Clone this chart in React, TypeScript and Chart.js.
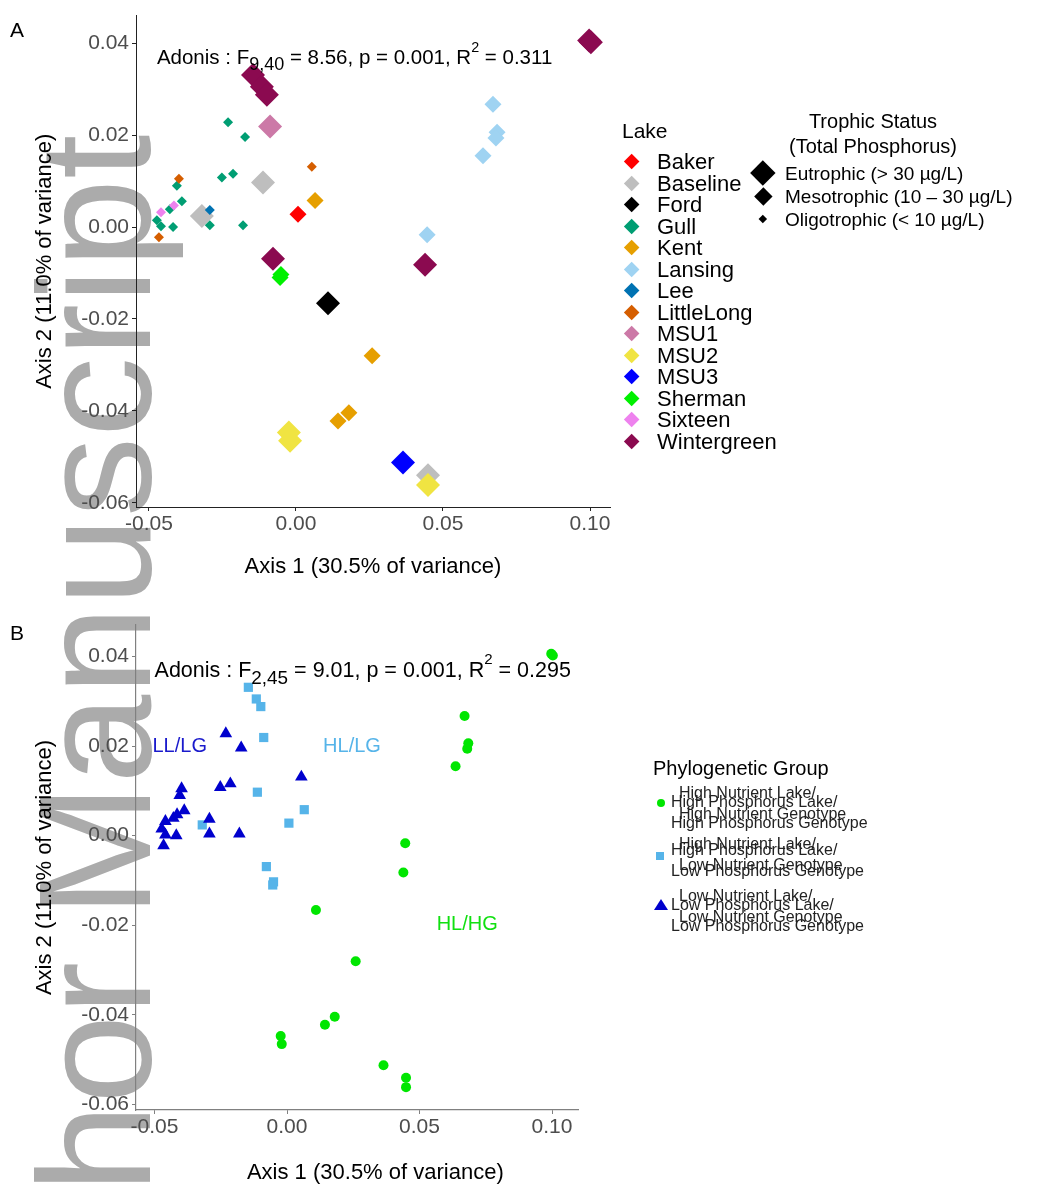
import React, { useEffect, useRef } from 'react';
import { Chart, registerables } from 'chart.js';

Chart.register(...registerables);

const FONT = '"Liberation Sans", Arial, Helvetica, sans-serif';

// ---------------- data ----------------
const lakeNames = ['Baker', 'Baseline', 'Ford', 'Gull', 'Kent', 'Lansing', 'Lee', 'LittleLong', 'MSU1', 'MSU2', 'MSU3', 'Sherman', 'Sixteen', 'Wintergreen'];
const lakeTrophic = ['Mesotrophic', 'Eutrophic', 'Eutrophic', 'Oligotrophic', 'Mesotrophic', 'Mesotrophic', 'Oligotrophic', 'Oligotrophic', 'Eutrophic', 'Eutrophic', 'Eutrophic', 'Mesotrophic', 'Oligotrophic', 'Eutrophic'];
const trophicNames = ['Eutrophic', 'Mesotrophic', 'Oligotrophic'];
const trophicLabels = ['Eutrophic (> 30 µg/L)', 'Mesotrophic (10 – 30 µg/L)', 'Oligotrophic (< 10 µg/L)'];

const sampleLake = [
  'Wintergreen', 'Wintergreen', 'Wintergreen', 'Wintergreen', 'Wintergreen', 'Wintergreen', 'Wintergreen',
  'Lansing', 'Lansing', 'Lansing', 'Lansing', 'Lansing',
  'Gull', 'Gull', 'Gull', 'Gull', 'Gull', 'Gull', 'Gull', 'Gull', 'Gull', 'Gull', 'Gull', 'Gull',
  'LittleLong', 'LittleLong', 'LittleLong',
  'Sixteen', 'Sixteen',
  'Lee',
  'Baseline', 'Baseline', 'Baseline',
  'MSU1',
  'Baker',
  'Kent', 'Kent', 'Kent', 'Kent',
  'Sherman', 'Sherman',
  'Ford',
  'MSU2', 'MSU2', 'MSU2',
  'MSU3',
];
const sampleAxis1 = [
  0.0997, 0.1003, -0.0146, -0.0116, -0.0099, -0.0078, 0.0439,
  0.0670, 0.0684, 0.0680, 0.0636, 0.0446,
  -0.0231, -0.0173, -0.0214, -0.0252, -0.0405, -0.0388, -0.0429, -0.0473, -0.0459, -0.0418, -0.0293, -0.0180,
  -0.0398, 0.0054, -0.0466,
  -0.0459, -0.0415,
  -0.0293,
  -0.0320, -0.0112, 0.0449,
  -0.0088,
  0.0007,
  0.0065, 0.0259, 0.0180, 0.0143,
  -0.0051, -0.0054,
  0.0109,
  -0.0024, -0.0020, 0.0449,
  0.0364,
];
const sampleAxis2 = [
  0.0406, 0.0402, 0.0331, 0.0305, 0.0288, -0.0069, -0.0082,
  0.0267, 0.0206, 0.0194, 0.0155, -0.0017,
  0.0228, 0.0196, 0.0116, 0.0108, 0.0090, 0.0056, 0.0039, 0.0015, 0.0002, 0.0000, 0.0004, 0.0004,
  0.0105, 0.0131, -0.0022,
  0.0032, 0.0047,
  0.0037,
  0.0024, 0.0097, -0.0540,
  0.0219,
  0.0028,
  0.0058, -0.0280, -0.0404, -0.0422,
  -0.0103, -0.0110,
  -0.0166,
  -0.0447, -0.0465, -0.0561,
  -0.0512,
];
const sampleGroup = [
  'HL/HG', 'HL/HG', 'HL/LG', 'HL/LG', 'HL/LG', 'HL/LG', 'HL/HG',
  'HL/HG', 'HL/HG', 'HL/HG', 'HL/HG', 'HL/HG',
  'LL/LG', 'LL/LG', 'LL/LG', 'LL/LG', 'LL/LG', 'LL/LG', 'LL/LG', 'LL/LG', 'LL/LG', 'LL/LG', 'LL/LG', 'LL/LG',
  'LL/LG', 'LL/LG', 'LL/LG',
  'LL/LG', 'LL/LG',
  'LL/LG',
  'HL/LG', 'HL/LG', 'HL/HG',
  'HL/LG',
  'HL/LG',
  'HL/LG', 'HL/HG', 'HL/HG', 'HL/HG',
  'HL/LG', 'HL/LG',
  'HL/HG',
  'HL/HG', 'HL/HG', 'HL/HG',
  'HL/HG',
];

const groupNames = ['HL/HG', 'HL/LG', 'LL/LG'];
const groupLegendNutrient = [
  'High Nutrient Lake/\nHigh Nutrient Genotype',
  'High Nutrient Lake/\nLow Nutrient Genotype',
  'Low Nutrient Lake/\nLow Nutrient Genotype',
];
const groupLegendPhosphorus = [
  'High Phosphorus Lake/\nHigh Phosphorus Genotype',
  'High Phosphorus Lake/\nLow Phosphorus Genotype',
  'Low Phosphorus Lake/\nLow Phosphorus Genotype',
];

const xTicks = [-0.05, 0, 0.05, 0.1];
const yTicks = [-0.06, -0.04, -0.02, 0, 0.02, 0.04];

const adonisA = [['Adonis : F', 'n'], ['9,40', 'sub'], [' = 8.56, p = 0.001, R', 'n'], ['2', 'sup'], [' = 0.311', 'n']];
const adonisB = [['Adonis : F', 'n'], ['2,45', 'sub'], [' = 9.01, p = 0.001, R', 'n'], ['2', 'sup'], [' = 0.295', 'n']];

// ---------------- styles ----------------
const lakeColors = ['#FF0000', '#BEBEBE', '#000000', '#009E73', '#E69F00', '#9FD3F2', '#0072B2', '#D55E00', '#CC79A7', '#F0E442', '#0000FF', '#00F000', '#EE82EE', '#8B0A50'];
const trophicRadius: Record<string, number> = { Eutrophic: 12, Mesotrophic: 8.5, Oligotrophic: 5 };
const trophicLegendRadius = [12.5, 9, 4];
const groupColors = ['#00E600', '#56B4E9', '#0000CD'];
const groupPointStyle = ['circle', 'rect', 'triangle'];
const groupRadius = [5, 6.5, 7.3];
const groupLabelColor = ['#10E010', '#56B4E9', '#1A1ACC'];
const groupLabelAnchor = [[0.068, -0.0198], [0.0245, 0.02], [-0.0405, 0.02]];

function drawRich(ctx: CanvasRenderingContext2D, parts: string[][], x: number, y: number, size: number) {
  let cx = x;
  for (const [text, kind] of parts) {
    const s = kind === 'n' ? size : kind === 'sub' ? size * 0.88 : size * 0.7;
    const dy = kind === 'sub' ? size * 0.3 : kind === 'sup' ? -size * 0.62 : 0;
    ctx.font = `${s}px ${FONT}`;
    ctx.fillText(text, cx, y + dy);
    cx += ctx.measureText(text).width;
  }
}

function makeScales(o: any) {
  return {
    x: {
      type: 'linear', position: 'bottom', min: o.xmin, max: o.xmax,
      afterBuildTicks: (s: any) => { s.ticks = xTicks.map((v) => ({ value: v })); },
      afterFit: (s: any) => { s.height = o.xh; },
      ticks: { callback: (v: any) => Number(v).toFixed(2), font: { family: FONT, size: 21 }, color: '#4D4D4D', padding: 1, maxRotation: 0, autoSkip: false },
      grid: { display: true, drawOnChartArea: false, drawTicks: true, tickLength: 4, color: o.axisColor, lineWidth: 1 },
      border: { display: true, color: o.axisColor, width: o.axisWidth },
      title: { display: true, text: o.xTitle, font: { family: FONT, size: 22 }, color: '#000', padding: { top: 0, bottom: o.xtPad } },
    },
    y: {
      type: 'linear', position: 'left', min: o.ymin, max: o.ymax,
      afterBuildTicks: (s: any) => { s.ticks = yTicks.map((v) => ({ value: v })); },
      afterFit: (s: any) => { s.width = 136; },
      ticks: { callback: (v: any) => Number(v).toFixed(2), font: { family: FONT, size: 21 }, color: '#4D4D4D', padding: 3, autoSkip: false },
      grid: { display: true, drawOnChartArea: false, drawTicks: true, tickLength: 4, color: o.axisColor, lineWidth: 1 },
      border: { display: true, color: o.axisColor, width: o.axisWidth },
      title: { display: true, text: 'Axis 2 (11.0% of variance)', font: { family: FONT, size: 22 }, color: '#000', padding: { top: 32, bottom: 0 } },
    },
  };
}

function configA(): any {
  const datasets = lakeNames.map((name, i) => {
    const pts: { x: number; y: number }[] = [];
    sampleLake.forEach((l, k) => { if (l === name) pts.push({ x: sampleAxis1[k], y: sampleAxis2[k] }); });
    return {
      label: name, data: pts, pointStyle: 'rectRot', pointRadius: trophicRadius[lakeTrophic[i]],
      backgroundColor: lakeColors[i], borderWidth: 0, order: -i, clip: false,
    };
  });
  const annot = {
    id: 'annotA',
    afterDatasetsDraw(chart: any) {
      const { ctx, scales } = chart;
      ctx.save();
      ctx.fillStyle = '#000';
      ctx.textBaseline = 'alphabetic';
      ctx.textAlign = 'left';
      drawRich(ctx, adonisA, scales.x.getPixelForValue(-0.0473), scales.y.getPixelForValue(0.0354), 20.5);
      ctx.restore();
    },
  };
  return {
    type: 'scatter',
    data: { datasets },
    options: {
      animation: false, responsive: false, maintainAspectRatio: false, events: [],
      layout: { padding: { left: 0, right: 438, top: 10, bottom: 0 } },
      plugins: { legend: { display: false }, tooltip: { enabled: false } },
      scales: makeScales({ xmin: -0.0544, xmax: 0.1068, ymin: -0.0609, ymax: 0.046, xh: 88, xtPad: 15, axisColor: '#222', axisWidth: 1, xTitle: 'Axis 1 (30.5% of variance)' }),
    },
    plugins: [annot],
  };
}

function configB(): any {
  const datasets = groupNames.map((g, gi) => {
    const pts: { x: number; y: number }[] = [];
    sampleGroup.forEach((l, k) => { if (l === g) pts.push({ x: sampleAxis1[k], y: sampleAxis2[k] }); });
    return {
      label: g, data: pts, pointStyle: groupPointStyle[gi], pointRadius: groupRadius[gi],
      backgroundColor: groupColors[gi], borderWidth: 0, order: 3 - gi, clip: false,
    };
  });
  const annot = {
    id: 'annotB',
    afterDatasetsDraw(chart: any) {
      const { ctx, scales } = chart;
      ctx.save();
      ctx.fillStyle = '#000';
      ctx.textBaseline = 'alphabetic';
      ctx.textAlign = 'left';
      drawRich(ctx, adonisB, scales.x.getPixelForValue(-0.05), scales.y.getPixelForValue(0.0353), 21.5);
      ctx.textAlign = 'center';
      ctx.textBaseline = 'middle';
      ctx.font = `20px ${FONT}`;
      groupNames.forEach((g, gi) => {
        ctx.fillStyle = groupLabelColor[gi];
        ctx.fillText(g, scales.x.getPixelForValue(groupLabelAnchor[gi][0]), scales.y.getPixelForValue(groupLabelAnchor[gi][1]));
      });
      ctx.restore();
    },
  };
  return {
    type: 'scatter',
    data: { datasets },
    options: {
      animation: false, responsive: false, maintainAspectRatio: false, events: [],
      layout: { padding: { left: 0, right: 470, top: 30, bottom: 0 } },
      plugins: { legend: { display: false }, tooltip: { enabled: false } },
      scales: makeScales({ xmin: -0.057, xmax: 0.1098, ymin: -0.0612, ymax: 0.047, xh: 79, xtPad: 3, axisColor: '#808080', axisWidth: 1.2, xTitle: '      Axis 1 (30.5% of variance)' }),
    },
    plugins: [annot],
  };
}

const abs = (o: React.CSSProperties): React.CSSProperties => ({ position: 'absolute', ...o });

function Diamond({ cx, cy, r, color }: { cx: number; cy: number; r: number; color: string }) {
  const s = r * Math.SQRT2;
  return <div style={abs({ left: cx - s / 2, top: cy - s / 2, width: s, height: s, background: color, transform: 'rotate(45deg)' })} />;
}

export default function App() {
  const refA = useRef<HTMLCanvasElement>(null);
  const refB = useRef<HTMLCanvasElement>(null);

  useEffect(() => {
    const a = new Chart(refA.current as HTMLCanvasElement, configA());
    const b = new Chart(refB.current as HTMLCanvasElement, configB());
    return () => { a.destroy(); b.destroy(); };
  }, []);

  const lakeRow = 21.5;
  return (
    <div style={abs({ left: 0, top: 0, width: 1048, height: 1189, background: '#fff', overflow: 'hidden', fontFamily: FONT, color: '#000' })}>
      {/* watermark */}
      <div style={abs({ left: 15, top: 1433, fontSize: 160, lineHeight: 1, color: '#ABABAB', whiteSpace: 'nowrap', transform: 'rotate(-90deg)', transformOrigin: 'left top', zIndex: 0 })}>
        Author Manuscript
      </div>

      <canvas ref={refA} width={1048} height={595} style={abs({ left: 0, top: 0, width: 1048, height: 595, zIndex: 1 })} />
      <canvas ref={refB} width={1048} height={594} style={abs({ left: 0, top: 595, width: 1048, height: 594, zIndex: 1 })} />

      <div style={{ position: 'absolute', left: 0, top: 0, width: 1048, height: 1189, zIndex: 2 }}>
        <div style={abs({ left: 10, top: 18, fontSize: 21, lineHeight: '24px' })}>A</div>
        <div style={abs({ left: 10, top: 621, fontSize: 21, lineHeight: '24px' })}>B</div>

        {/* Lake legend */}
        <div style={abs({ left: 622, top: 118, fontSize: 21, lineHeight: '26px' })}>Lake</div>
        {lakeNames.map((n, i) => {
          const cy = 162 + i * lakeRow;
          return (
            <React.Fragment key={n}>
              <Diamond cx={632} cy={cy} r={8} color={lakeColors[i]} />
              <div style={abs({ left: 657, top: cy - lakeRow / 2, fontSize: 22, lineHeight: `${lakeRow}px`, whiteSpace: 'nowrap' })}>{n}</div>
            </React.Fragment>
          );
        })}

        {/* Trophic legend */}
        <div style={abs({ left: 770, top: 109, width: 206, textAlign: 'center', fontSize: 20, lineHeight: '25px', whiteSpace: 'nowrap' })}>
          Trophic Status<br />(Total Phosphorus)
        </div>
        {trophicNames.map((t, i) => {
          const cy = 173 + i * 23;
          return (
            <React.Fragment key={t}>
              <Diamond cx={763} cy={cy} r={trophicLegendRadius[i]} color="#000" />
              <div style={abs({ left: 785, top: cy - 11.5, fontSize: 19, lineHeight: '23px', whiteSpace: 'nowrap' })}>{trophicLabels[i]}</div>
            </React.Fragment>
          );
        })}

        {/* Phylogenetic group legend */}
        <div style={abs({ left: 653, top: 755, fontSize: 20, lineHeight: '26px', whiteSpace: 'nowrap' })}>Phylogenetic Group</div>
        <div style={abs({ left: 657, top: 799, width: 8, height: 8, borderRadius: 4, background: groupColors[0] })} />
        <div style={abs({ left: 656, top: 852, width: 8, height: 8, background: groupColors[1] })} />
        <svg style={abs({ left: 654, top: 899, overflow: 'visible' })} width={14} height={12}>
          <polygon points="7,0 14,11 0,11" fill={groupColors[2]} />
        </svg>
        {[[783, 792], [834, 840], [886, 895]].map(([tn, tp], i) => (
          <React.Fragment key={i}>
            <div style={abs({ left: 679, top: tn, fontSize: 16, lineHeight: '20.5px', whiteSpace: 'pre', color: '#222' })}>{groupLegendNutrient[i]}</div>
            <div style={abs({ left: 671, top: tp, fontSize: 16, lineHeight: '20.5px', whiteSpace: 'pre', color: '#222' })}>{groupLegendPhosphorus[i]}</div>
          </React.Fragment>
        ))}
      </div>
    </div>
  );
}
